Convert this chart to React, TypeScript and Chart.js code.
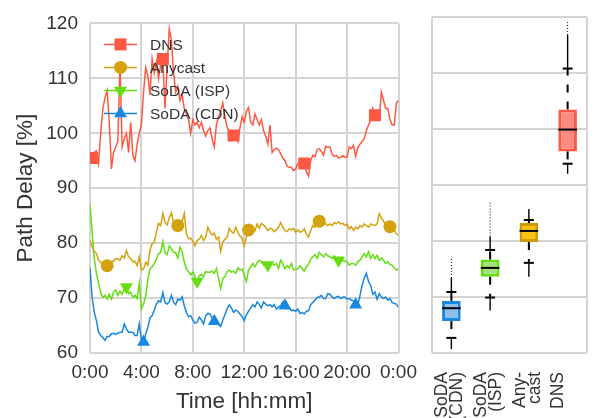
import React, { useEffect, useRef } from 'react';
import { Chart, registerables } from 'chart.js';

Chart.register(...registerables);

const FONT = "'Liberation Sans', Arial, sans-serif";
const TEXT = '#333333';
const GRID = '#d4d4d4';

// time axis: one sample every 10 minutes over 24h
const stepHours = 1 / 6;
const xTickHours = [0, 4, 8, 12, 16, 20, 24];
const xTickLabels = ['0:00', '4:00', '8:00', '12:00', '16:00', '20:00', '0:00'];
const yTicks = [60, 70, 80, 90, 100, 110, 120];

const dns = [95.2, 95.5, 96.5, 96.8, 94.5, 100, 104.5, 106.5, 107.8, 102,
  93.5, 96.5, 97.5, 98.5, 112.5, 97.5, 99, 100, 96.5, 102,
  96, 95, 98, 100, 101.5, 107.5, 112, 110.5, 107, 113.5,
  111, 113, 110, 112.5, 113.5, 104.5, 112, 119, 117, 111,
  107.5, 108.5, 106, 107, 104.5, 103.5, 102.5, 100, 102.5, 101.5,
  102, 101, 102, 100.5, 99.5, 100.5, 101, 99, 97.5, 101.5,
  103, 104, 105.5, 103, 101, 100.5, 99.5, 99.6, 99.5, 98.5,
  101, 103, 102, 104, 104.7, 102, 101.5, 103.5, 102.5, 101.5,
  102.5, 100.5, 99.5, 98, 101.5, 96.5, 97, 97.3, 97, 96.3,
  95.5, 95, 94, 93.8, 93.8, 93.2, 93.5, 94.5, 94.5, 94.3,
  94.5, 93, 92.2, 95, 96, 95.7, 97, 97.2, 96.7, 96,
  97.6, 97.5, 97.5, 96.2, 95.8, 96, 95.5, 95.6, 95.9, 95.6,
  95.7, 97.5, 97.2, 97.8, 95.8, 97.3, 98, 98.5, 99, 100.5,
  101.5, 102.5, 104.5, 103.3, 103, 102.5, 107.5, 106, 104.5, 104.5,
  102.5, 101.5, 101.5, 105.5, 106];

const anycast = [80.5, 79.3, 78.5, 78.1, 76.9, 76.5, 76.1, 76, 75.9, 76.3,
  76.6, 76.7, 77.2, 77.1, 76.9, 77.7, 77.3, 78.7, 77.5, 77.2,
  76.6, 76.7, 75.9, 77.5, 75.1, 75.3, 76.5, 76, 78.7, 79.9,
  80.2, 82, 83.6, 83.2, 85.4, 83.8, 83.3, 84.6, 85.5, 83.8,
  83.9, 83.2, 83.3, 83.9, 85.4, 81.7, 80.8, 80.9, 80.3, 79.5,
  80.5, 80.7, 81.4, 80.5, 81.1, 82.9, 82, 81.5, 81.8, 80.7,
  81.1, 78.5, 80.2, 80.7, 81.1, 82.7, 82.1, 81.8, 82.9, 82,
  81.3, 80.9, 79.5, 81.1, 82.4, 82.6, 82.7, 82.3, 83.5, 82.7,
  83.6, 83.3, 82.9, 82.3, 82.7, 82.6, 82.1, 82.4, 82.9, 83.75,
  82.9, 82.3, 82.1, 82.6, 82.4, 82.7, 82, 82.4, 82, 82.1,
  82.6, 81.7, 81.1, 82.3, 83.2, 82.9, 83.9, 84, 84, 83.9,
  83.5, 83.2, 83.5, 83.2, 83.75, 83.5, 83.9, 83.5, 83.6, 83.2,
  83.5, 82.6, 83, 82.3, 82.9, 82.6, 83.2, 82.9, 83.5, 83.2,
  82.9, 83.5, 83.3, 83.2, 83.5, 85.4, 84.6, 84, 83.3, 82.9,
  83, 82.7, 82.4, 81.7, 81.4];

const sodaIsp = [87, 82, 77.1, 74.5, 72.7, 71, 70.1, 70.5, 69.8, 70.7,
  69.8, 71.1, 71.5, 70.5, 71.2, 70.7, 71.7, 72, 70.8, 71.1,
  70.1, 70.5, 69.9, 72.7, 68, 68.9, 70.4, 73.3, 75.3, 75.7,
  76.3, 77.1, 78.1, 78.3, 80.3, 78.3, 77.9, 79.5, 79, 78.3,
  78.3, 77.3, 79.3, 78.4, 76.6, 75.3, 74.8, 74.2, 74.7, 73.9,
  73, 74.1, 74.3, 73.9, 74.8, 74.7, 74.7, 74.9, 74.5, 75.4,
  73.6, 71.7, 73.5, 73.9, 74.8, 75.1, 74.7, 74.9, 74.5, 75.5,
  75.1, 75.3, 74.2, 73, 75.1, 75.7, 76.3, 75.7, 76.5, 76.9,
  76.6, 76, 76.5, 76, 76.1, 76.3, 76, 76.3, 75.4, 76.9,
  76.3, 75.3, 75.9, 75.5, 76.3, 75.1, 75.3, 75.3, 75.9, 75.3,
  74.9, 75.7, 76.1, 77.1, 77.5, 77.9, 77.2, 78.3, 77.9, 77.5,
  78.1, 77.7, 77.5, 77.2, 77.7, 77.1, 76.9, 76.6, 76.9, 76.7,
  76.6, 76, 76.3, 76.3, 76, 76.6, 76.9, 77.5, 78.1, 77.5,
  78.4, 77.2, 77.9, 77.2, 77.8, 76.9, 77.3, 76.9, 76.3, 76.6,
  76.1, 76, 75.5, 75.1, 75.3];

const sodaCdn = [75.5, 70.1, 67.4, 65.9, 63.8, 63.2, 62.8, 62.3, 63, 63,
  63.5, 63.6, 63.4, 63.6, 63.8, 63.8, 65.3, 64.4, 63.8, 63.8,
  63.8, 63.2, 63.2, 65.3, 62.4, 62, 63.4, 64.7, 66.4, 66.8,
  67.8, 68.9, 69.5, 69.3, 71, 69.2, 68.9, 69.3, 70.5, 69.2,
  68.8, 69.8, 69.6, 70.2, 68.6, 67.4, 66.6, 66.8, 66, 65.4,
  65.6, 66.5, 66, 65.3, 66.8, 67.2, 67.1, 66.4, 65.8, 65.8,
  65.2, 64.8, 66, 67, 68, 68.8, 68.2, 67.4, 67.8, 67.6,
  67.1, 66.6, 65.9, 67, 67.6, 68.2, 68.8, 68.4, 69.3, 68.8,
  68.2, 69.3, 68.9, 68.6, 68.8, 68.4, 68.8, 68, 68.4, 68.6,
  69.3, 68.6, 68.3, 68.2, 67.7, 67.8, 67.6, 68, 67.2, 67.4,
  67.1, 67.6, 67.7, 68.8, 69.2, 69.6, 70.1, 70.2, 70.5, 69.9,
  69.9, 70.8, 70.7, 70.2, 69.9, 70.2, 70.3, 69.9, 70.2, 70.2,
  69.8, 69.9, 69.6, 69.5, 68.8, 68.8, 70.4, 72.3, 73.6, 74.5,
  73, 72.3, 70.7, 71.1, 69.8, 70.8, 70.2, 69.9, 70.2, 69.6,
  69.9, 69.2, 69, 68.9, 68.3];

const seriesNames = ['DNS', 'Anycast', 'SoDA (ISP)', 'SoDA (CDN)'];
const seriesValues = [dns, anycast, sodaIsp, sodaCdn];
const seriesColors = ['#ff5842', '#d4a20f', '#66dd11', '#1787e0'];
const markerStyles = ['rect', 'circle', 'triangle', 'triangle'];
const markerRotation = [0, 0, 180, 0];
const markerRadius = [8.5, 6.5, 7.5, 7.5];
const markerStart = [1, 8, 17, 25];
const markerEvery = 33;

// box plot panel
const boxLabels = [['SoDA', '(CDN)'], ['SoDA', '(ISP)'], ['Any-', 'cast'], 'DNS'];
const boxQ1 = [65.7, 73.6, 79.8, 96.0];
const boxQ3 = [69.3, 76.7, 83.2, 103.5];
const boxMedian = [68.0, 75.2, 81.8, 99.9];
const whiskerLow = [62.7, 69.9, 76.1, 93.8];
const whiskerHigh = [70.9, 78.4, 83.75, 110.8];
const flierLow = [60.7, 67.6, 73.6, 92.0];
const flierDenseHigh = [73.4, 80.8, 85.7, 116.8];
const flierHigh = [77.0, 87.0, 85.7, 119.5];
const boxFill = ['#8cc0ea', '#a6e284', '#ffc20e', '#ff8b7e'];
const boxEdge = ['#1787e0', '#66dd11', '#cc9a06', '#ff5842'];

function drawMarker(ctx: CanvasRenderingContext2D, style: string, x: number, y: number, r: number, rotDeg: number, color: string) {
  ctx.save();
  ctx.fillStyle = color;
  ctx.beginPath();
  if (style === 'rect') {
    const s = r / Math.SQRT2;
    ctx.rect(x - s, y - s, 2 * s, 2 * s);
  } else if (style === 'circle') {
    ctx.arc(x, y, r, 0, Math.PI * 2);
  } else {
    let a = (rotDeg * Math.PI) / 180;
    ctx.moveTo(x + Math.sin(a) * r, y - Math.cos(a) * r);
    a += (2 * Math.PI) / 3;
    ctx.lineTo(x + Math.sin(a) * r, y - Math.cos(a) * r);
    a += (2 * Math.PI) / 3;
    ctx.lineTo(x + Math.sin(a) * r, y - Math.cos(a) * r);
    ctx.closePath();
  }
  ctx.fill();
  ctx.restore();
}

const legendPlugin = {
  id: 'lineMarkerLegend',
  afterDatasetsDraw(chart: any) {
    const { ctx, chartArea } = chart;
    chart.data.datasets.forEach((ds: any, k: number) => {
      const y = chartArea.top + 21 + k * 23;
      const x0 = chartArea.left + 14;
      const x1 = chartArea.left + 47;
      ctx.save();
      ctx.strokeStyle = seriesColors[k];
      ctx.lineWidth = 1.5;
      ctx.beginPath();
      ctx.moveTo(x0, y);
      ctx.lineTo(x1, y);
      ctx.stroke();
      drawMarker(ctx, markerStyles[k], (x0 + x1) / 2, y, markerRadius[k], markerRotation[k], seriesColors[k]);
      ctx.fillStyle = TEXT;
      ctx.font = `15.5px ${FONT}`;
      ctx.textBaseline = 'middle';
      ctx.textAlign = 'left';
      ctx.fillText(ds.label, chartArea.left + 60, y + 1);
      ctx.restore();
    });
  },
};

const boxPlugin = {
  id: 'boxWhiskers',
  beforeDatasetsDraw(chart: any) {
    const { ctx, chartArea } = chart;
    ctx.save();
    ctx.strokeStyle = GRID;
    ctx.lineWidth = 2;
    ctx.beginPath();
    ctx.moveTo(Math.round(chartArea.left), chartArea.top);
    ctx.lineTo(Math.round(chartArea.left), chartArea.bottom);
    ctx.moveTo(Math.round(chartArea.right), chartArea.top);
    ctx.lineTo(Math.round(chartArea.right), chartArea.bottom);
    ctx.stroke();
    ctx.restore();
  },
  afterDatasetsDraw(chart: any) {
    const { ctx } = chart;
    const xs = chart.scales.x;
    const ys = chart.scales.y;
    const meta = chart.getDatasetMeta(0);
    const line = (ax: number, ay: number, bx: number, by: number) => {
      ctx.beginPath();
      ctx.moveTo(ax, ay);
      ctx.lineTo(bx, by);
      ctx.stroke();
    };
    boxQ1.forEach((_, i) => {
      const xc = xs.getPixelForValue(i);
      const half = meta.data[i].width / 2;
      const Y = (v: number) => ys.getPixelForValue(v);
      ctx.save();
      ctx.strokeStyle = '#000';
      ctx.lineWidth = 2;
      line(xc - half, Y(boxMedian[i]), xc + half, Y(boxMedian[i]));
      ctx.setLineDash([8, 9]);
      line(xc, Y(boxQ3[i]), xc, Y(whiskerHigh[i]));
      line(xc, Y(boxQ1[i]), xc, Y(whiskerLow[i]));
      ctx.setLineDash([]);
      line(xc - 5, Y(whiskerHigh[i]), xc + 5, Y(whiskerHigh[i]));
      line(xc - 5, Y(whiskerLow[i]), xc + 5, Y(whiskerLow[i]));
      ctx.lineWidth = 1.4;
      line(xc, Y(whiskerHigh[i]), xc, Y(flierDenseHigh[i]));
      line(xc, Y(whiskerLow[i]), xc, Y(flierLow[i]));
      ctx.lineWidth = 1;
      ctx.setLineDash([1, 2]);
      line(xc, Y(flierDenseHigh[i]), xc, Y(flierHigh[i]));
      ctx.restore();
    });
  },
};

export default function App() {
  const leftRef = useRef<HTMLCanvasElement>(null);
  const rightRef = useRef<HTMLCanvasElement>(null);

  useEffect(() => {
    const tickFont = { family: FONT, size: 19 };
    const left = new Chart(leftRef.current as HTMLCanvasElement, {
      type: 'line',
      data: {
        datasets: seriesNames.map((name, k) => ({
          label: name,
          data: seriesValues[k].map((v, i) => ({ x: i * stepHours, y: v })),
          borderColor: seriesColors[k],
          backgroundColor: seriesColors[k],
          borderWidth: 1.5,
          tension: 0,
          fill: false,
          pointStyle: markerStyles[k] as any,
          pointRotation: markerRotation[k],
          pointRadius: (c: any) => {
            const i = c.dataIndex;
            return i >= markerStart[k] && (i - markerStart[k]) % markerEvery === 0 ? markerRadius[k] : 0;
          },
          pointBorderWidth: 0,
          pointHoverRadius: 0,
        })),
      },
      options: {
        animation: false,
        responsive: true,
        maintainAspectRatio: false,
        events: [],
        layout: { padding: { left: 0, top: 17, right: 23, bottom: 0 } },
        plugins: { legend: { display: false }, tooltip: { enabled: false } },
        scales: {
          x: {
            type: 'linear',
            min: 0,
            max: 24,
            afterBuildTicks: (s: any) => {
              s.ticks = xTickHours.map((v) => ({ value: v }));
            },
            ticks: {
              callback: (_v: any, i: number) => xTickLabels[i],
              autoSkip: false,
              maxRotation: 0,
              minRotation: 0,
              padding: 8,
              font: tickFont,
              color: TEXT,
            },
            grid: { color: GRID, lineWidth: 2, drawTicks: false },
            border: { display: false },
            title: { display: true, text: 'Time [hh:mm]', font: { family: FONT, size: 22.5 }, color: TEXT, padding: { top: 0, bottom: 3 } },
            afterFit: (s: any) => {
              s.height = 65;
            },
          },
          y: {
            min: 60,
            max: 120,
            afterBuildTicks: (s: any) => {
              s.ticks = yTicks.map((v) => ({ value: v }));
            },
            ticks: { padding: 12, font: tickFont, color: TEXT },
            grid: { color: GRID, lineWidth: 2, drawTicks: false },
            border: { display: false },
            title: { display: true, text: 'Path Delay [%]', font: { family: FONT, size: 22.5 }, color: TEXT, padding: { top: 12, bottom: 0 } },
            afterFit: (s: any) => {
              s.width = 90;
            },
          },
        },
      } as any,
      plugins: [legendPlugin],
    });

    const right = new Chart(rightRef.current as HTMLCanvasElement, {
      type: 'bar',
      data: {
        labels: boxLabels as any,
        datasets: [
          {
            data: boxQ1.map((q, i) => [q, boxQ3[i]]) as any,
            backgroundColor: boxFill,
            borderColor: boxEdge,
            borderWidth: 3,
            borderSkipped: false,
            barPercentage: 0.48,
            categoryPercentage: 1,
          },
        ],
      },
      options: {
        animation: false,
        responsive: true,
        maintainAspectRatio: false,
        events: [],
        layout: { padding: { left: 7, right: 8, top: 17, bottom: 0 } },
        plugins: { legend: { display: false }, tooltip: { enabled: false } },
        scales: {
          x: {
            ticks: {
              minRotation: 90,
              maxRotation: 90,
              autoSkip: false,
              padding: 11,
              labelOffset: -9,
              font: { family: FONT, size: 17.5, lineHeight: 0.86 },
              color: TEXT,
            },
            grid: { display: false },
            border: { display: false },
            afterFit: (s: any) => {
              s.height = 65;
            },
          },
          y: {
            min: 60,
            max: 120,
            afterBuildTicks: (s: any) => {
              s.ticks = yTicks.map((v) => ({ value: v }));
            },
            ticks: { display: false },
            grid: { color: GRID, lineWidth: 2, drawTicks: false },
            border: { display: false },
            afterFit: (s: any) => {
              s.width = 0;
            },
          },
        },
      } as any,
      plugins: [boxPlugin],
    });

    return () => {
      left.destroy();
      right.destroy();
    };
  }, []);

  return (
    <div style={{ position: 'absolute', left: 0, top: 0, width: 595, height: 418, background: '#ffffff' }}>
      <div style={{ position: 'absolute', left: 0, top: 0, width: 425, height: 418 }}>
        <canvas ref={leftRef} />
      </div>
      <div style={{ position: 'absolute', left: 425, top: 0, width: 170, height: 418 }}>
        <canvas ref={rightRef} />
      </div>
    </div>
  );
}
